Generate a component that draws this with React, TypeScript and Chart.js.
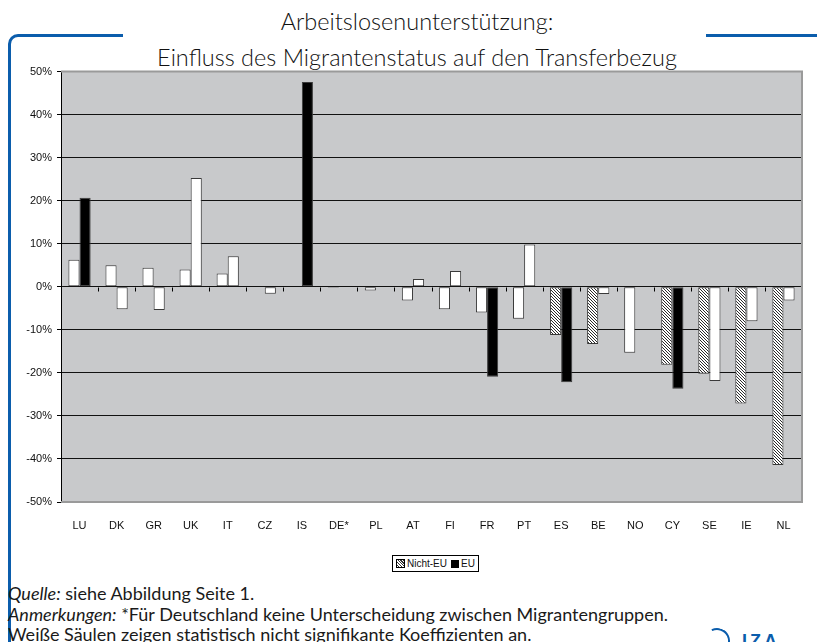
import React, { useEffect, useRef } from "react";
import { Chart, registerables } from "chart.js";

Chart.register(...registerables);

const categories = ["LU", "DK", "GR", "UK", "IT", "CZ", "IS", "DE*", "PL", "AT", "FI", "FR", "PT", "ES", "BE", "NO", "CY", "SE", "IE", "NL"];
const nichtEU = [6.3, 5.0, 4.4, 4.0, 3.1, null, null, -0.2, -0.85, -3.2, -5.2, -6.0, -7.4, -11.2, -13.3, -15.3, -18.1, -20.2, -27.1, -41.4];
const eu = [20.7, -5.2, -5.4, 25.3, 7.1, -1.6, 47.6, null, null, 1.8, 3.7, -20.9, 9.8, -22.2, -1.7, null, -23.7, -21.9, -8.0, -3.2];
// w = not significant (white), h = significant Nicht-EU (hatched), b = significant EU / all migrants (black)
const nichtEUFill = ["w", "w", "w", "w", "w", "w", "w", "b", "w", "w", "w", "w", "w", "h", "h", "w", "h", "h", "h", "h"];
const euFill = ["b", "w", "w", "w", "w", "w", "b", "w", "w", "w", "w", "b", "w", "b", "w", "w", "b", "w", "w", "w"];
const yMin = -50;
const yMax = 50;
const yStep = 10;
const seriesNames = ["Nicht-EU", "EU"];

const BLUE = "#0b5dac";

function makeHatch(): CanvasPattern | string {
  const c = document.createElement("canvas");
  c.width = 3;
  c.height = 3;
  const g = c.getContext("2d");
  if (!g) return "#999";
  g.fillStyle = "#ffffff";
  g.fillRect(0, 0, 3, 3);
  g.fillStyle = "#2a2a2a";
  for (let i = 0; i < 3; i++) g.fillRect(i, i, 1, 1);
  const p = g.createPattern(c, "repeat");
  return p || "#999";
}

const plotBg = {
  id: "plotBg",
  beforeDraw(chart: any) {
    const { ctx, chartArea: a } = chart;
    ctx.save();
    ctx.fillStyle = "#c8c9cb";
    ctx.fillRect(a.left, a.top, a.right - a.left, a.bottom - a.top);
    ctx.restore();
  },
  beforeDatasetsDraw(chart: any) {
    const { ctx, chartArea: a, scales } = chart;
    const y0 = Math.round(scales.y.getPixelForValue(0)) + 0.5;
    const n = categories.length;
    const w = (a.right - a.left) / n;
    ctx.save();
    ctx.strokeStyle = "#000";
    ctx.lineWidth = 1;
    ctx.beginPath();
    for (let k = 1; k <= n; k++) {
      const x = Math.round(a.left + k * w) + 0.5;
      ctx.moveTo(x, y0);
      ctx.lineTo(x, y0 + 4);
    }
    ctx.stroke();
    ctx.strokeStyle = "#9a9a9a";
    ctx.lineWidth = 2;
    ctx.beginPath();
    ctx.moveTo(a.left, a.top);
    ctx.lineTo(a.right, a.top);
    ctx.lineTo(a.right, a.bottom);
    ctx.lineTo(a.left, a.bottom);
    ctx.stroke();
    ctx.restore();
  },
};

function BarChart() {
  const ref = useRef<HTMLCanvasElement | null>(null);
  useEffect(() => {
    if (!ref.current) return;
    const hatch = makeHatch();
    const fill = (f: string) => (f === "b" ? "#000000" : f === "h" ? hatch : "#ffffff");
    const chart = new Chart(ref.current, {
      type: "bar",
      data: {
        labels: categories,
        datasets: [
          {
            label: seriesNames[0],
            data: nichtEU as any,
            backgroundColor: nichtEUFill.map(fill) as any,
            borderColor: "#3a3a3a",
            borderWidth: 1,
            borderSkipped: false,
            categoryPercentage: 0.6,
            barPercentage: 1,
          },
          {
            label: seriesNames[1],
            data: eu as any,
            backgroundColor: euFill.map(fill) as any,
            borderColor: "#3a3a3a",
            borderWidth: 1,
            borderSkipped: false,
            categoryPercentage: 0.6,
            barPercentage: 1,
          },
        ],
      },
      options: {
        animation: false,
        responsive: false,
        maintainAspectRatio: false,
        layout: { padding: { left: 0, right: 15, top: 11, bottom: 0 } },
        plugins: {
          legend: { display: false },
          tooltip: { enabled: false },
          title: { display: false },
        },
        scales: {
          x: {
            grid: { display: false },
            border: { display: false },
            ticks: {
              color: "#111",
              font: { family: "'Liberation Sans', Arial, sans-serif", size: 11 },
              padding: 9,
              maxRotation: 0,
              autoSkip: false,
            },
            afterFit: (s: any) => {
              s.height = 28;
            },
          },
          y: {
            min: yMin,
            max: yMax,
            ticks: {
              stepSize: yStep,
              color: "#111",
              font: { family: "'Liberation Sans', Arial, sans-serif", size: 11 },
              padding: 5,
              callback: (v: any) => v + "%",
            },
            grid: {
              color: (c: any) => (c.tick && (c.tick.value === yMax || c.tick.value === yMin) ? "rgba(0,0,0,0)" : "#111"),
              tickColor: "#000",
              tickLength: 4,
              lineWidth: 1,
            },
            border: { color: "#000", width: 1 },
            afterFit: (s: any) => {
              s.width = 61;
            },
          },
        },
      },
      plugins: [plotBg],
    });
    return () => chart.destroy();
  }, []);
  return <canvas ref={ref} width={817} height={470} style={{ position: "absolute", left: 0, top: 60, width: 817, height: 470 }} />;
}

export default function App() {
  const textFont = "Lato, 'Open Sans', sans-serif";
  return (
    <div style={{ position: "absolute", left: 0, top: 0, width: 817, height: 642, overflow: "hidden", background: "#fff" }}>
      <div
        style={{
          position: "absolute",
          left: 8,
          top: 34,
          width: 115,
          height: 700,
          borderLeft: `3px solid ${BLUE}`,
          borderTop: `3px solid ${BLUE}`,
          borderTopLeftRadius: 10,
          boxSizing: "border-box",
        }}
      />
      <div style={{ position: "absolute", left: 706, top: 34, width: 111, height: 3, background: BLUE }} />
      <div
        style={{
          position: "absolute",
          left: 0,
          top: 3,
          width: 834,
          textAlign: "center",
          fontFamily: textFont,
          fontSize: 23.5,
          fontWeight: 300,
          lineHeight: "36px",
          color: "#111",
        }}
      >
        <div>Arbeitslosenunterstützung:</div>
        <div>Einfluss des Migrantenstatus auf den Transferbezug</div>
      </div>
      <BarChart />
      <div
        style={{
          position: "absolute",
          left: 392,
          top: 555,
          height: 15,
          padding: "0 3px",
          border: "1px solid #000",
          display: "flex",
          alignItems: "center",
          fontFamily: "'Liberation Sans', Arial, sans-serif",
          fontSize: 10,
          color: "#111",
          whiteSpace: "nowrap",
        }}
      >
        <span
          style={{
            display: "inline-block",
            width: 7,
            height: 7,
            border: "1px solid #000",
            marginRight: 2,
            background: "repeating-linear-gradient(45deg, #fff 0px, #fff 1px, #333 1px, #333 2px)",
          }}
        />
        <span style={{ marginRight: 4 }}>{seriesNames[0]}</span>
        <span style={{ display: "inline-block", width: 8, height: 8, background: "#000", marginRight: 2 }} />
        <span>{seriesNames[1]}</span>
      </div>
      <div
        style={{
          position: "absolute",
          left: 8,
          top: 583,
          fontFamily: textFont,
          fontSize: 18,
          lineHeight: "20.5px",
          color: "#1a1a1a",
          whiteSpace: "nowrap",
        }}
      >
        <div>
          <i>Quelle:</i> siehe Abbildung Seite 1.
        </div>
        <div>
          <i>Anmerkungen:</i> *Für Deutschland keine Unterscheidung zwischen Migrantengruppen.
        </div>
        <div>Weiße Säulen zeigen statistisch nicht signifikante Koeffizienten an.</div>
      </div>
      <div
        style={{
          position: "absolute",
          left: 704,
          top: 628,
          width: 26,
          height: 26,
          borderRadius: "50%",
          borderTop: `2px solid ${BLUE}`,
          borderRight: `2px solid ${BLUE}`,
          borderLeft: "2px solid transparent",
          borderBottom: "2px solid transparent",
          transform: "rotate(20deg)",
          boxSizing: "border-box",
        }}
      />
      <div
        style={{
          position: "absolute",
          left: 742,
          top: 631,
          fontFamily: "'Liberation Sans', Arial, sans-serif",
          fontSize: 18,
          fontWeight: "bold",
          color: BLUE,
          letterSpacing: 3,
        }}
      >
        IZA
      </div>
    </div>
  );
}
